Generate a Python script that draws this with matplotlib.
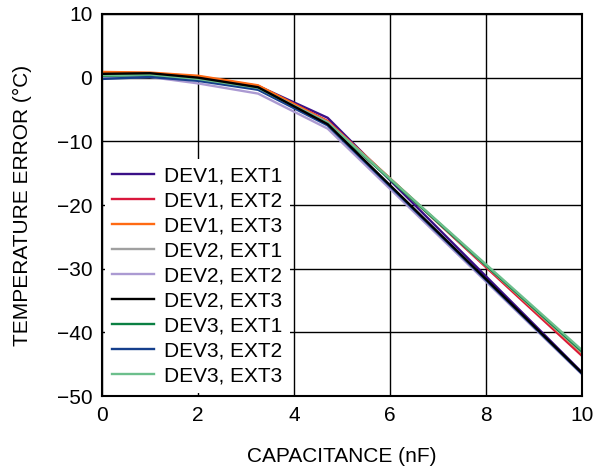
#! /usr/bin/env python
""" Temperature error vs. capacitance for three devices and three external
diodes.
"""
import matplotlib
matplotlib.use("Agg")
import matplotlib.pyplot as plt

plt.rcParams['font.family'] = ['Liberation Sans', 'DejaVu Sans']

capacitance = [0, 1, 2, 3.25, 4.7, 10]

labels = ["DEV1, EXT1", "DEV1, EXT2", "DEV1, EXT3",
          "DEV2, EXT1", "DEV2, EXT2", "DEV2, EXT3",
          "DEV3, EXT1", "DEV3, EXT2", "DEV3, EXT3"]

dev1_ext1 = [0.6, 0.6, 0.1, -1.3, -6.3, -46.3]
dev1_ext2 = [0.8, 0.7, 0.2, -1.3, -6.8, -43.7]
dev1_ext3 = [0.9, 0.8, 0.3, -1.2, -6.9, -43.3]
dev2_ext1 = [0.5, 0.5, -0.1, -1.6, -7.0, -43.2]
dev2_ext2 = [-0.1, 0.1, -0.9, -2.5, -8.0, -46.6]
dev2_ext3 = [0.6, 0.7, 0.0, -1.5, -7.3, -46.4]
dev3_ext1 = [0.3, 0.4, -0.3, -1.8, -7.2, -43.0]
dev3_ext2 = [-0.2, 0.1, -0.5, -1.9, -7.5, -46.5]
dev3_ext3 = [0.4, 0.5, -0.2, -1.6, -7.1, -42.8]

series = [dev1_ext1, dev1_ext2, dev1_ext3,
          dev2_ext1, dev2_ext2, dev2_ext3,
          dev3_ext1, dev3_ext2, dev3_ext3]

colors = ["#3a1087", "#d9173c", "#ff6a13",
          "#a0a0a0", "#ab9ad2", "#000000",
          "#0b8043", "#153f8c", "#6cbf8c"]

fig = plt.figure(figsize=(6.07, 4.66), dpi=100)
ax = fig.add_axes([0.168, 0.150, 0.791, 0.820])

for vals, lab, col in zip(series, labels, colors):
    # black trace sits on top of its group in the original
    z = 2.5 if col == "#000000" else 2
    ax.plot(capacitance, vals, color=col, lw=1.7, label=lab, zorder=z)

ax.set_xlim(0, 10)
ax.set_ylim(-50, 10)
ax.set_xticks(range(0, 11, 2))
ax.set_yticks(range(-50, 11, 10))
ax.set_yticklabels([str(v).replace("-", "\u2212") for v in range(-50, 11, 10)])
ax.grid(True, color="black", lw=1.0)
ax.set_axisbelow(True)
ax.tick_params(direction="in", length=0, labelsize=15, pad=7)
for s in ax.spines.values():
    s.set_linewidth(1.5)

ax.set_xlabel("CAPACITANCE (nF)", fontsize=15, labelpad=16)
ax.set_ylabel("TEMPERATURE ERROR (\u00b0C)", fontsize=15, labelpad=18)

leg = ax.legend(loc="lower left", fontsize=15, frameon=True, framealpha=1,
                edgecolor="white", fancybox=False, handlelength=2.0,
                labelspacing=0.29, borderaxespad=0.15, handletextpad=0.5,
                borderpad=0.35)
leg.get_frame().set_linewidth(0)
leg.set_zorder(5)

plt.savefig("out.png", dpi=100)
